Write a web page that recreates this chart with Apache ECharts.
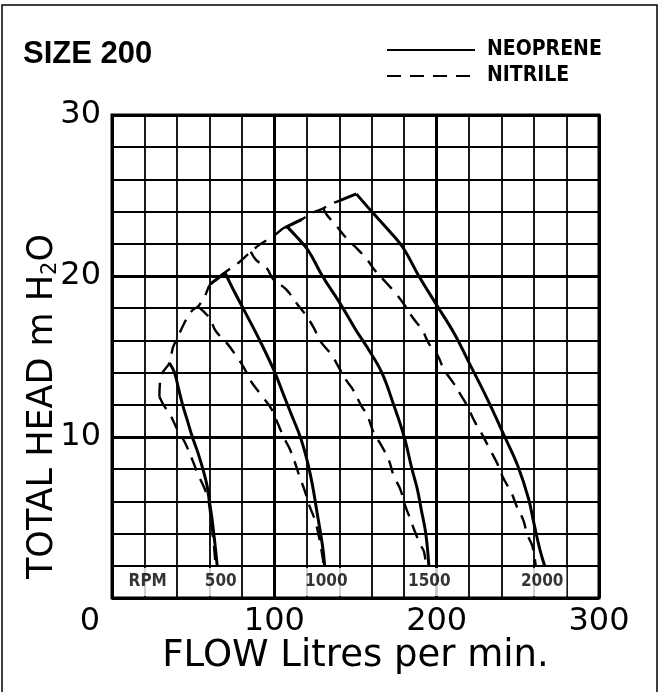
<!DOCTYPE html>
<html><head><meta charset="utf-8">
<script src="https://cdn.jsdelivr.net/npm/echarts@6/dist/echarts.min.js"></script>
<style>html,body{margin:0;padding:0;background:#fff}#c{width:660px;height:692px}</style>
</head><body><div id="c"></div>
<script>
// ---- axis tick labels ----
const xTickLabels = [0, 100, 200, 300];
const yTickLabels = [10, 20, 30];

// ---- RPM strip labels ----
const rpmText = ['RPM', '500', '1000', '1500', '2000'];
const rpmX = [22, 67, 132, 195.5, 265];

// ---- NEOPRENE (solid) curves: [flow L/min, head m] ----
const neo500 = [[35.4,14.6],[38.5,14],[41,13],[43.5,12],[46.5,11],[49.5,10],[53,9],[56,8],[58.5,7],[60,6],[61.5,5],[62.7,4],[63.8,3],[64.8,2]];
const neo1000Hook = [[60.6,19.5],[69.7,20.2]];
const neo1000 = [[69.7,20.2],[75,19.1],[81.5,17.85],[90,16.2],[99.5,14.2],[105,12.8],[110.5,11.4],[116,10],[120.3,8.5],[123.5,7],[126,5.5],[128.5,4],[130,3],[131,2]];
const neo1500Hook = [[116.7,23.5],[106.5,23.0]];
const neo1500 = [[108,23.05],[114,22.4],[120.8,21.6],[129.6,20],[140.5,18.3],[150.5,16.6],[157,15.6],[166.2,14],[173.5,12],[180,10],[184.8,8],[188,6.8],[190.5,5.5],[193.3,4],[195.2,2]];
const neo2000Hook = [[140.6,24.7],[150.5,25.1]];
const neo2000 = [[150.5,25.1],[160,24],[169,23],[179,21.8],[189,20],[200,18.2],[211,16.4],[220,14.6],[231,12.4],[242,10],[250,8.2],[256.5,6.2],[260,4.6],[263.6,3],[266.5,2]];

// ---- NITRILE (dashed) curves ----
const nitEnvelope = [[29.2,12.5],[30.3,13.85],[35.4,14.6],[37.5,15.55],[40,16.1],[45.7,17.3],[49.8,17.9],[53,18.1],[57.4,18.8],[60.6,19.5],[70,20.25],[77,20.75],[85.5,21.5],[91,21.95],[100.3,22.55],[106,23],[116.7,23.5],[122.9,23.9],[130.2,24.2],[133.3,24.4],[140.6,24.7]];
const nit500 = [[29.2,12.5],[32.3,11.9],[35.5,11.45],[40.6,10.4],[44.7,9.7],[49.8,8.5],[52.9,7.7],[57,6.8],[59.3,6.1],[60.8,5],[62,4],[63,3],[63.8,2]];
const nit1000 = [[53,18.1],[60,17.4],[63.8,16.6],[71,15.8],[76.1,15.1],[81.3,14.3],[86,13.4],[92,12.6],[97.9,11.8],[101,11.1],[106.2,9.9],[109.3,9.3],[112.4,8.5],[115.5,7.55],[118.6,6.7],[121.7,5.7],[124.8,4.9],[127.5,3.8],[129.3,2.8],[130.5,2]];
const nit1500 = [[85.5,21.5],[88.7,21.0],[95.2,20.5],[99.3,19.8],[107,19.2],[114.5,18.2],[119.2,17.6],[124.5,16.75],[128,16],[135.2,15.1],[140.4,14.2],[144.5,13.5],[148.7,12.9],[153.8,11.9],[157,11.4],[161.5,10.2],[165.2,9.6],[170.4,8.6],[173.5,7.6],[177.6,6.75],[180.7,5.7],[183.8,4.9],[185.9,4.3],[190,3.3],[192.1,2.9],[193.5,2]];
const nit2000 = [[130.2,24.2],[132.3,23.8],[137.5,23.2],[144.8,22.3],[150,21.8],[157.3,21],[161.5,20.4],[168.8,19.6],[175,18.9],[180.2,18.2],[185,17.45],[191.3,16.6],[195.2,15.8],[200.4,15.1],[204.5,14.2],[210.7,13.3],[214.9,12.6],[219,11.9],[223.2,11.0],[228.3,10.1],[232.4,9.3],[237.6,8.3],[240.8,7.5],[246.2,6.5],[249.3,5.7],[253.5,4.8],[255.6,4],[259,3.2],[261,2]];

const FONT = 'DejaVu Sans';
const COND = 'DejaVu Sans Condensed';

function solid(data, smooth) {
  return { type: 'line', name: 'NEOPRENE', data: data, symbol: 'none', smooth: smooth,
    lineStyle: { color: '#000', width: 3 }, itemStyle: { color: '#000' }, silent: true, z: 3 };
}
function dashed(data, smooth) {
  return { type: 'line', name: 'NITRILE', data: data, symbol: 'none', smooth: smooth,
    lineStyle: { color: '#000', width: 2.4, type: [14, 9] }, itemStyle: { color: '#000' }, silent: true, z: 3 };
}

const chart = echarts.init(document.getElementById('c'), null, { renderer: 'canvas' });
const option = {
  backgroundColor: '#fff',
  animation: false,
  title: { text: 'SIZE 200', left: 18, top: 34,
    textStyle: { fontFamily: 'Liberation Sans', fontWeight: 'bold', fontSize: 31, color: '#000' } },
  legend: {
    data: ['NEOPRENE', 'NITRILE'], orient: 'vertical', left: 381, top: 33,
    itemWidth: 88, itemHeight: 14, itemGap: 2, selectedMode: false,
    itemStyle: { color: 'rgba(0,0,0,0)', borderWidth: 0, opacity: 0 },
    textStyle: { fontFamily: COND, fontWeight: 'bold', fontSize: 21, lineHeight: 24, color: '#000', padding: [0, 0, 0, 7] }
  },
  grid: { left: 112, right: 61, top: 115, bottom: 94, show: true, borderColor: '#000', borderWidth: 3, backgroundColor: 'transparent' },
  xAxis: [
    { type: 'value', min: 0, max: 300, interval: 20,
      axisLine: { show: false }, axisTick: { show: false },
      splitLine: { show: true, lineStyle: { color: '#000', width: 1.8 } },
      axisLabel: { margin: 8, color: '#000', fontSize: 32, fontFamily: FONT,
        formatter: v => xTickLabels.includes(v) ? (v === 0 ? '{z|0}' : String(v)) : '',
        rich: { z: { fontSize: 32, fontFamily: FONT, color: '#000', padding: [0, 44, 0, 0] } } },
      name: 'FLOW Litres per min.', nameLocation: 'middle', nameGap: 40, nameMoveOverlap: false,
      nameTextStyle: { fontSize: 37, fontFamily: FONT, color: '#000' } },
    { type: 'value', min: 0, max: 300, interval: 100, position: 'bottom',
      axisLine: { show: false }, axisTick: { show: false }, axisLabel: { show: false },
      splitLine: { show: true, lineStyle: { color: '#000', width: 3 } } }
  ],
  yAxis: [
    { type: 'value', min: 0, max: 30, interval: 2,
      axisLine: { show: false }, axisTick: { show: false },
      splitLine: { show: true, lineStyle: { color: '#000', width: 1.8 } },
      axisLabel: { margin: 11, color: '#000', fontSize: 32, fontFamily: FONT,
        formatter: v => yTickLabels.includes(v) ? String(v) : '' },
      name: 'TOTAL HEAD m H{s|2}O', nameLocation: 'middle', nameGap: 51, nameRotate: 90, nameMoveOverlap: false,
      nameTextStyle: { fontSize: 35, fontFamily: FONT, color: '#000', padding: [0, 100, 0, 0],
        rich: { s: { fontSize: 21, fontFamily: FONT, color: '#000', padding: [16, 0, 0, 0] } } } },
    { type: 'value', min: 0, max: 30, interval: 10, position: 'left',
      axisLine: { show: false }, axisTick: { show: false }, axisLabel: { show: false },
      splitLine: { show: true, lineStyle: { color: '#000', width: 3 } } }
  ],
  graphic: [
    { type: 'rect', shape: { x: 2, y: 5, width: 655, height: 700 },
      style: { fill: 'none', stroke: '#000', lineWidth: 1.5 }, silent: true, z: -1 }
  ],
  series: [
    solid(neo500, 0.4), solid(neo1000Hook, false), solid(neo1000, 0.4),
    solid(neo1500Hook, false), solid(neo1500, 0.4), solid(neo2000Hook, false), solid(neo2000, 0.4),
    dashed(nitEnvelope, 0.3), dashed(nit500, 0.4), dashed(nit1000, 0.4), dashed(nit1500, 0.4), dashed(nit2000, 0.4),
    { type: 'scatter', name: 'rpm', silent: true, z: 5,
      data: rpmX.map((x, i) => ({ value: [x, 1], name: rpmText[i] })),
      symbol: 'rect', symbolSize: 1, itemStyle: { color: 'rgba(0,0,0,0)' },
      label: { show: true, position: 'inside', formatter: '{b}', color: '#000',
        fontFamily: COND, fontWeight: 'bold', fontSize: 17, lineHeight: 18,
        backgroundColor: '#fff', padding: [5, 3] } }
  ]
};
chart.setOption(option);
</script>
</body></html>
